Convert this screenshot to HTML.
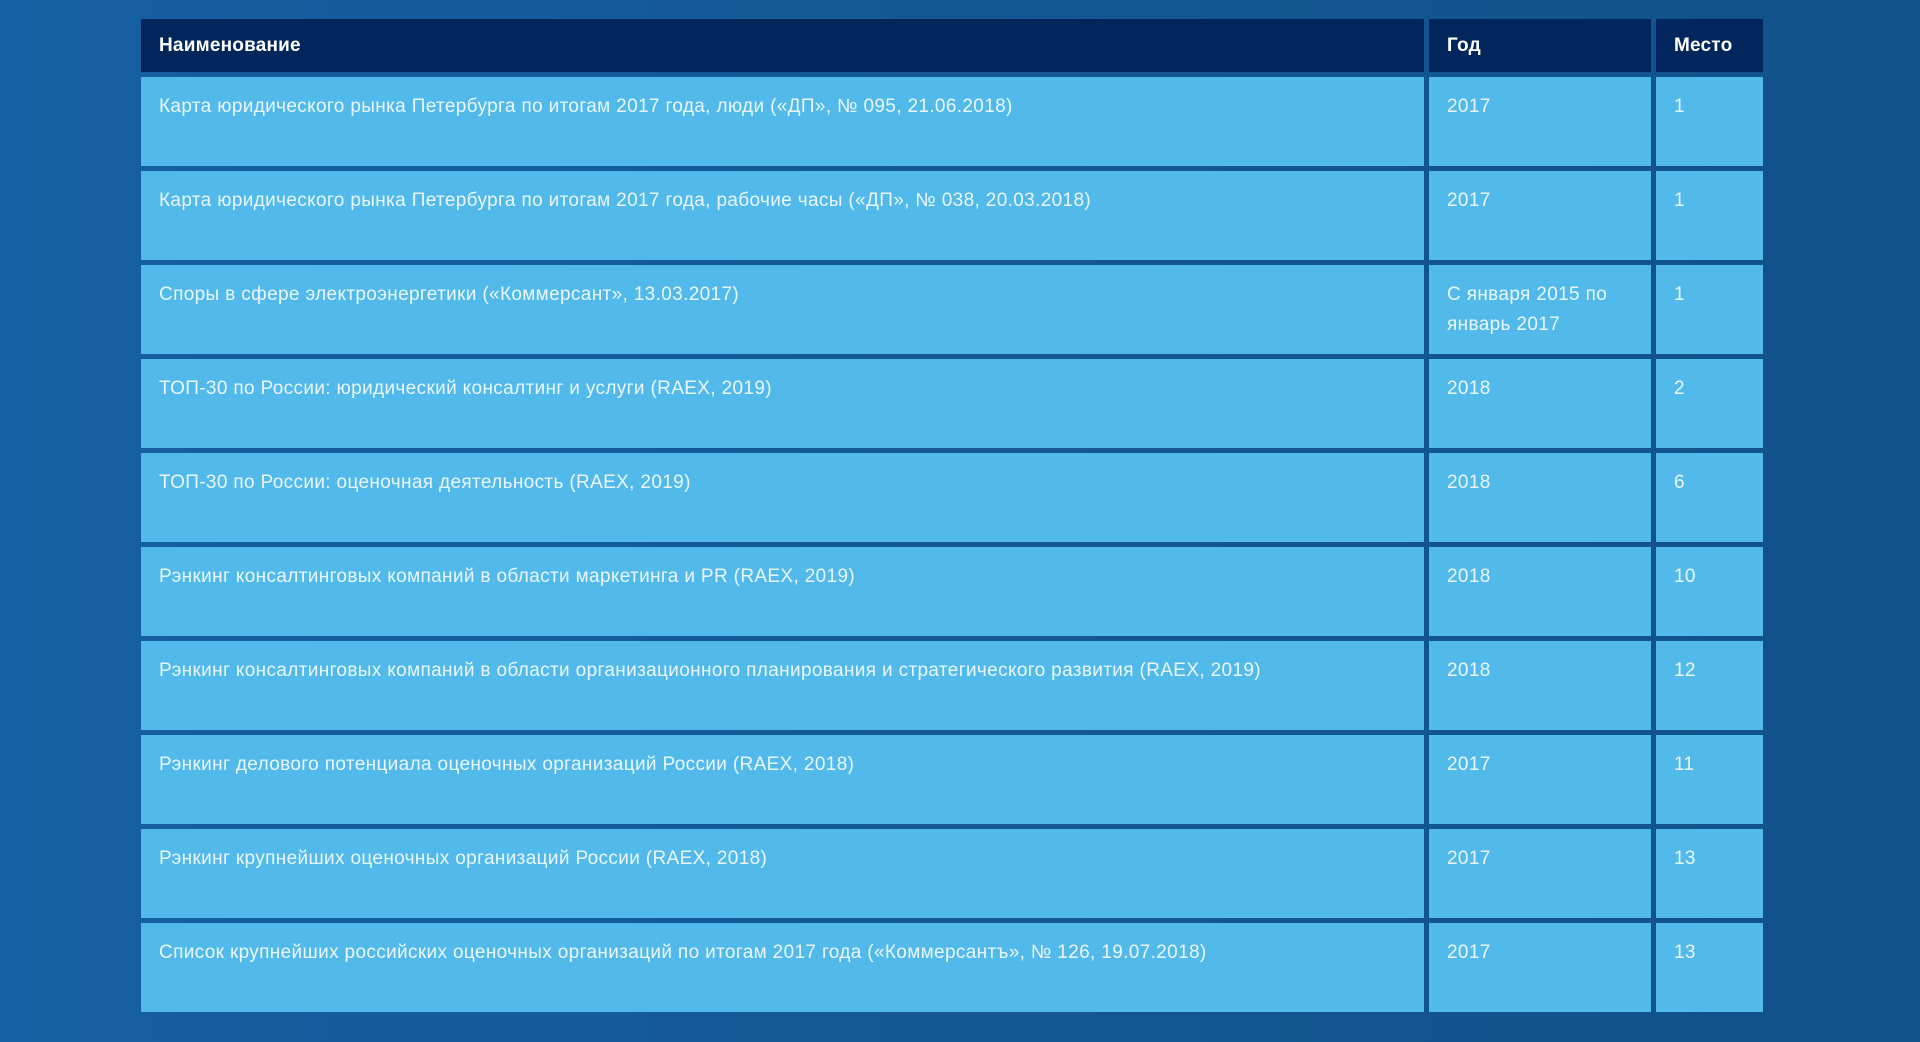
<!DOCTYPE html>
<html><head><meta charset="utf-8"><style>
html,body{margin:0;padding:0;width:1920px;height:1042px;overflow:hidden}
body{background:linear-gradient(90deg,#1560a2 0%,#135894 50%,#11518a 100%);font-family:"Liberation Sans","Noto Sans CJK SC",sans-serif}
.tbl{position:absolute;left:141px;top:19px;width:1622px}
.row{display:flex;gap:5px;margin-bottom:5px}
.c{box-sizing:border-box;padding:0 18px;color:#eaf6fd;font-size:19px;letter-spacing:0.35px;line-height:30px}
.c1{width:1283px}.c2{width:222px}.c3{width:107px}
.hd .c{background:#00265b;height:53px;font-weight:bold;line-height:53px;color:#fff;letter-spacing:0.2px}
.bd .c{background:#52baea;height:89px;padding-top:15px}
</style></head><body>
<div class="tbl">
<div class="row hd">
<div class="c c1">Наименование</div>
<div class="c c2">Год</div>
<div class="c c3">Место</div>
</div>
<div id="body"></div>
</div>
<script>
const names=["Карта юридического рынка Петербурга по итогам 2017 года, люди («ДП», № 095, 21.06.2018)","Карта юридического рынка Петербурга  по итогам 2017 года, рабочие часы («ДП», № 038, 20.03.2018)","Споры в сфере электроэнергетики («Коммерсант», 13.03.2017)","ТОП-30 по России: юридический консалтинг и услуги (RAEX, 2019)","ТОП-30 по России: оценочная деятельность (RAEX, 2019)","Рэнкинг консалтинговых компаний в области маркетинга и PR (RAEX, 2019)","Рэнкинг консалтинговых компаний в области организационного планирования и стратегического развития (RAEX, 2019)","Рэнкинг делового потенциала оценочных организаций России (RAEX, 2018)","Рэнкинг крупнейших оценочных организаций России (RAEX, 2018)","Список крупнейших российских оценочных организаций по итогам 2017 года («Коммерсантъ», № 126, 19.07.2018)"];
const years=["2017","2017","С января 2015 по январь 2017","2018","2018","2018","2018","2017","2017","2017"];
const places=["1","1","1","2","6","10","12","11","13","13"];
const b=document.getElementById('body');
names.forEach((n,i)=>{
const r=document.createElement('div');r.className='row bd';


[[n,'c1','cell-name'],[years[i],'c2','cell-year'],[places[i],'c3','cell-place']].forEach(([t,c,nm])=>{
const d=document.createElement('div');d.className='c '+c;d.textContent=t;


r.appendChild(d);});
b.appendChild(r);});
</script>
</body></html>
